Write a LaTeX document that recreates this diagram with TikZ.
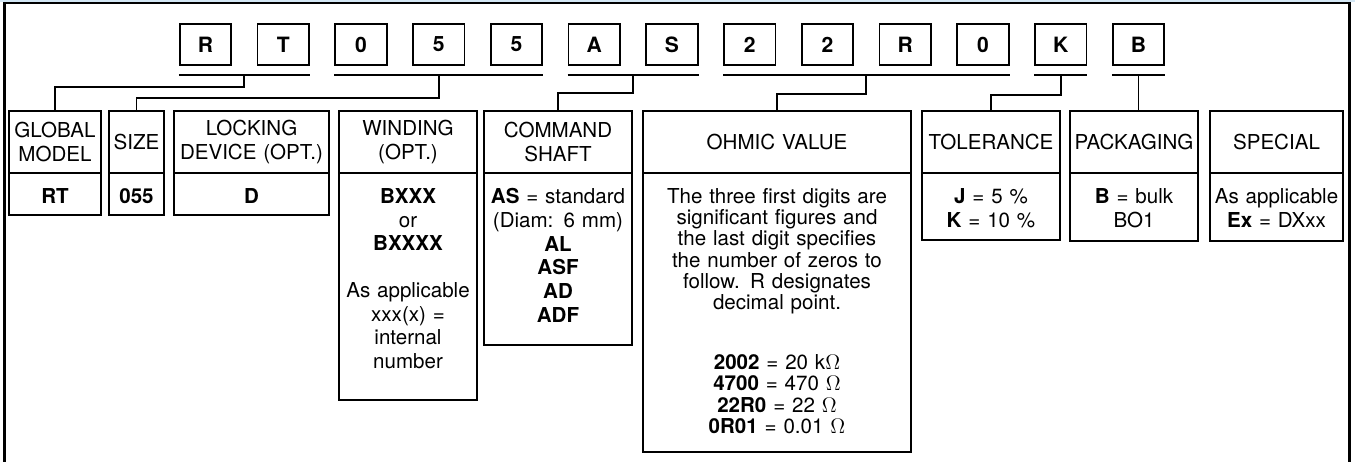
\documentclass[tikz,border=0pt]{standalone}
\usepackage{fontspec}
\setmainfont{TeX Gyre Heros}
\usepackage{tikz}
\usetikzlibrary{positioning}
\definecolor{hdrblue}{HTML}{D2E6F4}

\tikzset{
    wire/.style={line width=1.1pt},
    cellwidth/.style={minimum width=#1, text width=#1},
    charbox/.style={draw, line width=1.1pt, minimum width=1.03cm, minimum height=0.82cm, inner sep=0pt, font=\fontsize{12}{14}\selectfont\bfseries},
    headcell/.style={draw, line width=1.1pt, outer sep=0pt, inner sep=0pt, minimum height=1.24cm, align=center, font=\fontsize{11.7}{14.2}\selectfont},
    bodycell/.style={draw, line width=1.1pt, outer sep=0pt, inner sep=0pt, anchor=north},
    celltext/.style={inner sep=0pt, align=center, font=\fontsize{11.7}{13.5}\selectfont},
}

\begin{document}
\begin{tikzpicture}[x=0.02cm, y=-0.02cm]
            \useasboundingbox (0,0) rectangle (1355,462);
            \fill[hdrblue] (0,0) rectangle (1355,2);
            \draw[line width=1.2pt] (4.5,462) -- (4.5,3) -- (1349.5,3) -- (1349.5,462);

            % code letters
            \foreach \ch [count=\i from 0] in {R,T,0,5,5,A,S,2,2,R,0,K,B}
                \node[charbox] (c\i) at ({205.5+77.75*\i},44.5) {\ch};

            \draw[wire] (c0.south west |- 0,75) -- coordinate (uRT) (c1.south east |- 0,75);
            \draw[wire] (c2.south west |- 0,75) -- coordinate (uSZ) (c4.south east |- 0,75);
            \draw[wire] (c5.south west |- 0,75) -- coordinate (uCS) (c6.south east |- 0,75);
            \draw[wire] (c7.south west |- 0,75) -- coordinate (uOV) (c10.south east |- 0,75);
            \draw[wire] (c11.south west |- 0,75) -- coordinate (uTL) (c11.south east |- 0,75);
            \draw[wire] (c12.south west |- 0,75) -- coordinate (uPK) (c12.south east |- 0,75);

            % field headers
            \node[headcell, cellwidth=1.84cm] (gm) at (55,142) {GLOBAL\\MODEL};
            \node[headcell, cellwidth=1.10cm] (sz) at (136.5,142) {SIZE};
            \node[headcell, cellwidth=3.10cm] (ld) at (251.5,142) {LOCKING\\DEVICE (OPT.)};
            \node[headcell, cellwidth=2.76cm] (wd) at (408,142) {WINDING\\(OPT.)};
            \node[headcell, cellwidth=2.96cm] (cs) at (558,142) {COMMAND\\SHAFT};
            \node[headcell, cellwidth=5.36cm] (ov) at (777,142) {OHMIC VALUE};
            \node[headcell, cellwidth=2.76cm] (tl) at (991,142) {TOLERANCE};
            \node[headcell, cellwidth=2.56cm] (pk) at (1134,142) {PACKAGING};
            \node[headcell, cellwidth=2.66cm] (sp) at (1276.5,142) {SPECIAL};

            % field bodies
            \node[bodycell, minimum width=1.84cm, minimum height=0.84cm] (gmb) at (gm.south) {};
            \node[bodycell, minimum width=1.10cm, minimum height=0.84cm] (szb) at (sz.south) {};
            \node[bodycell, minimum width=3.10cm, minimum height=0.84cm] (ldb) at (ld.south) {};
            \node[bodycell, minimum width=2.76cm, minimum height=4.54cm] (wdb) at (wd.south) {};
            \node[bodycell, minimum width=2.96cm, minimum height=3.44cm] (csb) at (cs.south) {};
            \node[bodycell, minimum width=5.36cm, minimum height=5.58cm] (ovb) at (ov.south) {};
            \node[bodycell, minimum width=2.76cm, minimum height=1.34cm] (tlb) at (tl.south) {};
            \node[bodycell, minimum width=2.56cm, minimum height=1.36cm] (pkb) at (pk.south) {};
            \node[bodycell, minimum width=2.66cm, minimum height=1.36cm] (spb) at (sp.south) {};

            \node[celltext, cellwidth=1.84cm, below=0.3cm of gmb.north] (gmt) {\textbf{RT}};
            \node[celltext, cellwidth=1.10cm, below=0.3cm of szb.north] (szt) {\textbf{055}};
            \node[celltext, cellwidth=3.10cm, below=0.3cm of ldb.north] (ldt) {\textbf{D}};
            \node[celltext, cellwidth=2.76cm, below=0.3cm of wdb.north] (wdt) {\textbf{BXXX}\\or\\\textbf{BXXXX}\\[13pt]As applicable\\xxx(x) =\\internal\\number};
            \node[celltext, cellwidth=2.96cm, below=0.3cm of csb.north] (cst) {\textbf{AS} = standard\\(Diam: 6 mm)\\\textbf{AL}\\\textbf{ASF}\\\textbf{AD}\\\textbf{ADF}};
            \node[celltext, cellwidth=5.36cm, below=0.3cm of ovb.north, font=\fontsize{11.7}{12.1}\selectfont] (ovt) {The three first digits are\\significant figures and\\the last digit specifies\\the number of zeros to\\follow. R designates\\decimal point.\\[22pt]\textbf{2002} = 20 k$\Omega$\\\textbf{4700} = 470 $\Omega$\\\textbf{22R0} = 22 $\Omega$\\\textbf{0R01} = 0.01 $\Omega$};
            \node[celltext, cellwidth=2.76cm, below=0.3cm of tlb.north] (tlt) {\textbf{J} = 5 \%\\\textbf{K} = 10 \%};
            \node[celltext, cellwidth=2.56cm, below=0.3cm of pkb.north] (pkt) {\textbf{B} = bulk\\BO1};
            \node[celltext, cellwidth=2.66cm, below=0.3cm of spb.north] (spt) {As applicable\\\textbf{Ex} = DXxx};

            % connectors
            \draw[wire] (uRT) -- (uRT |- 0,87) -| (gm.north);
            \draw[wire] (uSZ) -- (uSZ |- 0,98) -| (sz.north);
            \draw[wire] (uCS) -- (uCS |- 0,93) -| (cs.north);
            \draw[wire] (uOV) -- (uOV |- 0,94) -| (ov.north);
            \draw[wire] (uTL) -- (uTL |- 0,95) -| (tl.north);
            \draw[wire] (uPK) -- (uPK |- pk.north);
        \end{tikzpicture}
\end{document}
